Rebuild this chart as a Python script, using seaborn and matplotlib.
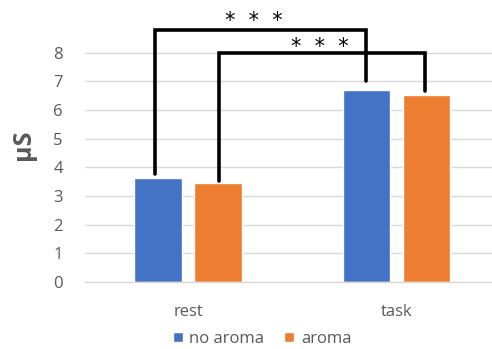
import matplotlib
matplotlib.use("Agg")
import matplotlib.pyplot as plt
import seaborn as sns
import pandas as pd

# Skin conductance by phase and condition
phases = ["rest", "task"]
conditions = ["no aroma", "aroma"]
no_aroma = [3.63, 6.70]
aroma = [3.45, 6.54]
y_ticks = [0, 1, 2, 3, 4, 5, 6, 7, 8]

df = pd.DataFrame({
    "phase": phases * 2,
    "condition": [conditions[0]] * 2 + [conditions[1]] * 2,
    "value": no_aroma + aroma,
})

sns.set_theme(style="white")
plt.rcParams["font.family"] = ["Open Sans", "DejaVu Sans"]

grey = "#595959"
fig = plt.figure(figsize=(4.92, 3.49), dpi=100)
ax = fig.add_axes([85 / 492, 67 / 349, 407 / 492, 275 / 349])

sns.barplot(data=df, x="phase", y="value", hue="condition",
            order=phases, hue_order=conditions,
            palette=["#4472C4", "#ED7D31"], width=0.574, gap=0.215,
            saturation=1, errorbar=None, ax=ax, legend=True)

ax.set_xlim(-0.493, 1.455)
ax.set_ylim(0, 9.6)
ax.set_yticks(y_ticks)
ax.yaxis.grid(True, color="#d9d9d9", linewidth=1)
ax.set_axisbelow(True)
for s in ["top", "right", "left"]:
    ax.spines[s].set_visible(False)
ax.spines["bottom"].set_color("#d9d9d9")
ax.spines["bottom"].set_linewidth(1)
ax.tick_params(axis="y", length=0, pad=16, labelsize=12, labelcolor=grey)
ax.tick_params(axis="x", length=0, pad=16, labelsize=12, labelcolor=grey)
ax.set_xlabel("")
ax.set_ylabel("μS", fontsize=18, fontweight="bold", color=grey, labelpad=12)

# bar centres, left to right: rest/no aroma, rest/aroma, task/no aroma, task/aroma
bars = [p for p in ax.patches if p.get_height() > 0]
cx = sorted(p.get_x() + p.get_width() / 2 for p in bars)
rest_na, rest_a, task_na, task_a = cx

def bracket(x1, x2, top, y1, y2, label, label_x, label_y):
    ax.plot([x1, x1, x2, x2], [y1, top, top, y2], color="black",
            linewidth=2.6, clip_on=False, solid_joinstyle="miter")
    ax.text(label_x, label_y, label, ha="center", va="center",
            fontsize=15, color="black", family="DejaVu Sans", clip_on=False)

bracket(rest_na - 0.015, task_na - 0.005, 8.78, no_aroma[0] + 0.15,
        no_aroma[1] + 0.30, "*  *  *", 0.316, 9.12)
bracket(rest_a + 0.005, task_a - 0.01, 8.0, aroma[0] + 0.08,
        aroma[1] + 0.14, "*  *  *", 0.63, 8.22)

leg = ax.legend(loc="center", bbox_to_anchor=(262 / 492, 10 / 349),
                bbox_transform=fig.transFigure, ncol=2, frameon=False,
                fontsize=12, handlelength=0.6, handleheight=0.6,
                handletextpad=0.4, columnspacing=1.2)
for t in leg.get_texts():
    t.set_color(grey)

fig.savefig("out.png", dpi=100)
